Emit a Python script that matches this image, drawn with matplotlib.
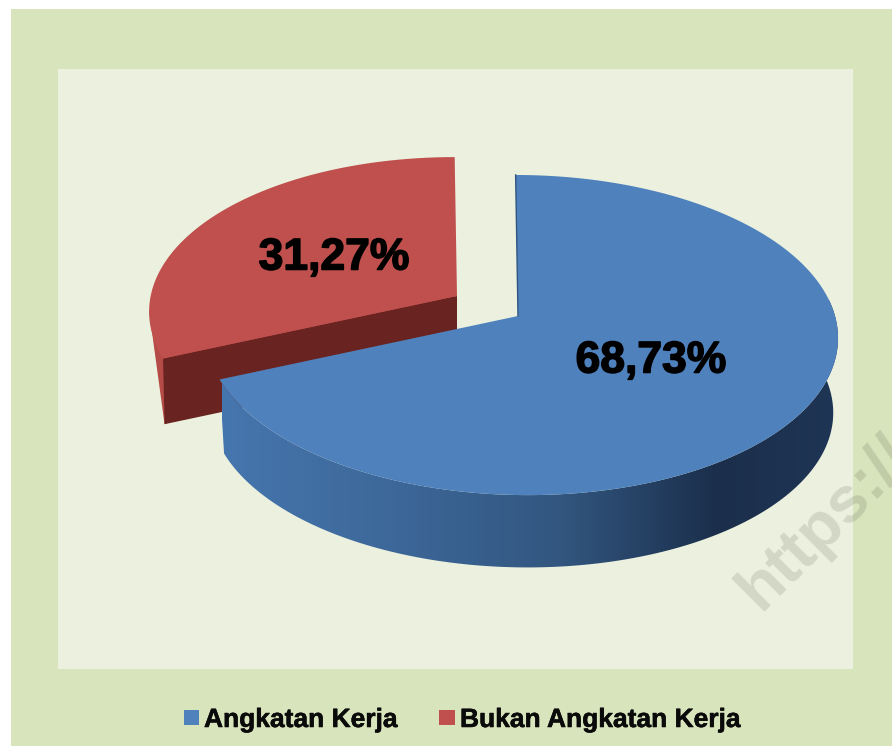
import numpy as np
import matplotlib
matplotlib.use('Agg')
import matplotlib.pyplot as plt
import matplotlib.patheffects as pe
from matplotlib.patches import Polygon, Rectangle
from matplotlib.colors import LinearSegmentedColormap

labels = ['Angkatan Kerja', 'Bukan Angkatan Kerja']
shares = [68.73, 31.27]
share_labels = ['68,73%', '31,27%']
colors = ['#4f81bd', '#c0504d']

plt.rcParams['font.family'] = ['Liberation Sans', 'DejaVu Sans']

fig = plt.figure(figsize=(8.92, 7.46), dpi=100, facecolor='white')
ax = fig.add_axes([0, 0, 1, 1])
ax.set_xlim(0, 892)
ax.set_ylim(746, 0)
ax.axis('off')

ax.add_patch(Rectangle((11, 9), 881, 737, fc='#d8e4bc', ec='none', zorder=0))
ax.add_patch(Rectangle((58, 69), 795, 600, fc='#ebf1de', ec='none', zorder=1))

# perspective look of the disc
A, B, K = 314, 157.8, 0.119


def disc(theta, apex, depth=0, scale=1.0):
    u, v = np.cos(theta), np.sin(theta)
    d = 1 + K * v
    x = apex[0] + scale * (3 + 6 * (-v) / d + A * u / d)
    y = apex[1] - scale * B * v / d + depth
    return np.column_stack([x, y])


# slices go clockwise from the top
angle_blue_end = np.pi / 2 - 2 * np.pi * shares[0] / 100
angle_red_end = np.pi / 2 + 2 * np.pi * shares[1] / 100

# red slice, pulled out
red_apex = (457, 296)
t = np.linspace(np.pi / 2, angle_red_end, 120)
red_arc = disc(t, red_apex, 0, 0.985)
red_tip = disc(np.array([angle_red_end]), red_apex, 66, 0.98)
red_far = disc(np.array([np.pi * 1.03]), red_apex, 0, 0.985)
ax.add_patch(Polygon(np.vstack([red_far, red_tip, [red_apex]]), fc='#b54b47', ec='none', zorder=2))
inner = np.array([red_apex, red_arc[-1], red_tip[0], (red_apex[0], red_apex[1] + 66)])
ax.add_patch(Polygon(inner, fc='#692320', ec='none', zorder=3))
ax.add_patch(Polygon(np.vstack([[red_apex], red_arc]), fc=colors[1], ec='none', zorder=4))

# blue slice, side wall has a gradient
blue_apex = (518, 316)
t = np.linspace(angle_blue_end, np.pi / 2, 300)
blue_arc = disc(t, blue_apex)
blue_low = disc(t, blue_apex, 75, 0.985)
wall = Polygon(np.vstack([blue_arc, blue_low[::-1]]), fc='none', ec='none', zorder=5)
ax.add_patch(wall)
cmap = LinearSegmentedColormap.from_list('wall', [(0, '#4676ae'), (0.3, '#3c6697'), (0.55, '#32567f'),
                                                  (0.8, '#1b2f4c'), (1, '#1f3555')])
img = ax.imshow(np.linspace(0, 1, 256).reshape(1, -1), cmap=cmap, extent=[222, 840, 600, 300],
                aspect='auto', zorder=5)
img.set_clip_path(wall)
ax.set_xlim(0, 892)
ax.set_ylim(746, 0)

ax.add_patch(Polygon(np.vstack([[blue_apex], blue_arc]), fc=colors[0], ec='none', zorder=6))
ax.plot([blue_apex[0], blue_arc[-1, 0]], [blue_apex[1], blue_arc[-1, 1]], color='#2f5580', lw=1, zorder=7)

heavy = [pe.withStroke(linewidth=1.1, foreground='black')]
ax.text(651, 361, share_labels[0], fontsize=32, fontweight='bold', color='black',
        ha='center', va='center', path_effects=heavy, zorder=8)
ax.text(334, 258, share_labels[1], fontsize=32, fontweight='bold', color='black',
        ha='center', va='center', path_effects=heavy, zorder=8)

# legend
thin = [pe.withStroke(linewidth=0.4, foreground='#0a0a0a')]
ax.add_patch(Rectangle((184, 710), 15, 15, fc=colors[0], ec='none', zorder=8))
ax.add_patch(Rectangle((439, 710), 16, 15, fc=colors[1], ec='none', zorder=8))
ax.text(204, 727, labels[0], fontsize=19, fontweight='bold', color='#0a0a0a', ha='left', va='baseline',
        path_effects=thin, zorder=8)
ax.text(460, 727, labels[1], fontsize=19, fontweight='bold', color='#0a0a0a', ha='left', va='baseline',
        path_effects=thin, zorder=8)

# watermark
ax.text(760, 612, 'https://', fontsize=47, fontweight='bold', color='black', alpha=0.11,
        rotation=45, rotation_mode='anchor', ha='left', va='baseline', zorder=9)

fig.savefig('out.png', dpi=100)
